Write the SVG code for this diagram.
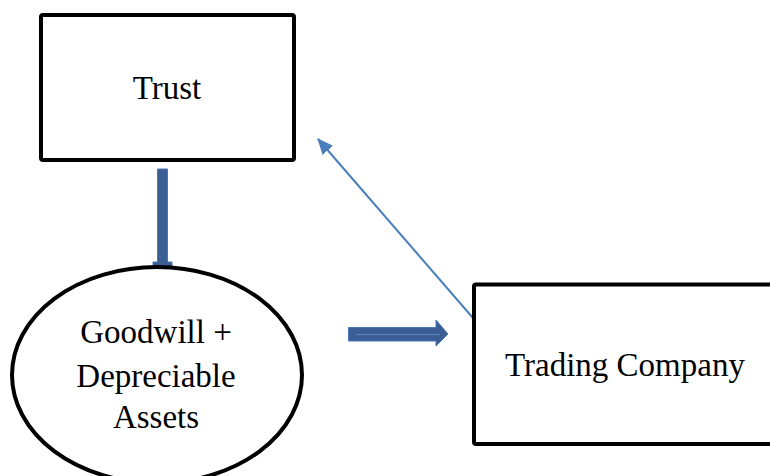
<svg xmlns="http://www.w3.org/2000/svg" width="770" height="476" viewBox="0 0 770 476">
<style>
.box{fill:#fff;stroke:#000;stroke-width:4}
.lbl{font-family:"Liberation Serif","Times New Roman",serif;font-size:33px;fill:#000}
.block{fill:#3b5f95;stroke:#4a78b4;stroke-width:1}
</style>
<defs>
<marker id="thin" viewBox="0 0 16 14" refX="15" refY="7" markerWidth="16" markerHeight="14" orient="auto" markerUnits="userSpaceOnUse">
<path d="M0,0 L16,7 L0,14 z" fill="#4a7ebb"/>
</marker>
</defs>
<rect width="770" height="476" fill="#fff"/>
<g id="connectors">
<path class="block" d="M157.5,169 H167.5 V262 H172 V267 H153 V262 H157.5 Z"/>
<path class="block" d="M348.5,327.5 H436 V320 L448,334 L436,346 V341 H348.5 Z"/>
<line x1="356" y1="334.5" x2="440" y2="334.5" stroke="#5a86c0" stroke-width="1"/>
<line x1="473" y1="318" x2="318" y2="139" stroke="#4a7ebb" stroke-width="2" marker-end="url(#thin)"/>
</g>
<g id="trust">
<rect class="box" x="41" y="15" width="253" height="145" rx="2"/>
<text class="lbl" x="167" y="99" text-anchor="middle">Trust</text>
</g>
<g id="goodwill">
<ellipse class="box" cx="157" cy="375" rx="145" ry="108" stroke-width="4.5"/>
<text class="lbl" x="156" y="343" text-anchor="middle">Goodwill +</text>
<text class="lbl" x="156" y="387" text-anchor="middle">Depreciable</text>
<text class="lbl" x="156" y="428" text-anchor="middle">Assets</text>
</g>
<g id="trading">
<rect class="box" x="474" y="284.5" width="310" height="159.5" rx="2"/>
<text class="lbl" x="625" y="376" text-anchor="middle">Trading Company</text>
</g>
</svg>
